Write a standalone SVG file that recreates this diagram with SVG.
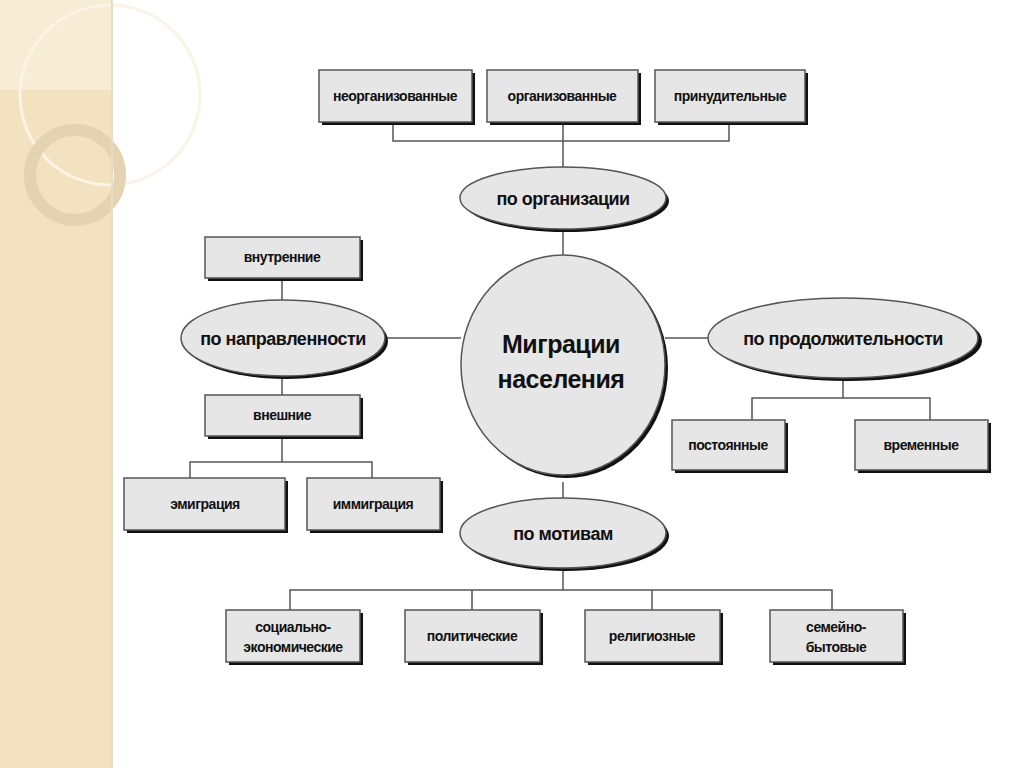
<svg xmlns="http://www.w3.org/2000/svg" width="1024" height="768" viewBox="0 0 1024 768">
<style>
.b{fill:#e6e6e6;stroke:#555;stroke-width:1.5}
.s{fill:#111}
.l{stroke:#555;stroke-width:1.5;fill:none}
text{font-family:"Liberation Sans",Arial,sans-serif;font-weight:bold;fill:#111;text-anchor:middle;letter-spacing:-0.5px}
.t{font-size:14px}
.e{font-size:18px}
.c{font-size:25px}
</style>
<rect width="1024" height="768" fill="#fff"/>
<g id="side">
<rect x="0" y="0" width="112" height="768" fill="#f2e2bf"/>
<rect x="0" y="0" width="112" height="90" fill="#f7ecd4"/>
<circle cx="110" cy="95" r="90" fill="none" stroke="#fbf4e6" stroke-width="3"/>
<circle cx="75" cy="175" r="45" fill="none" stroke="#e3d3b0" stroke-width="12"/>
<line x1="112" y1="0" x2="112" y2="768" stroke="#e8dcc4" stroke-width="2"/>
</g>
<g id="connectors" class="l">
<path d="M393 122V141H729V122M563 122V168M563 228V262"/>
<path d="M385 338H461M665 338H708"/>
<path d="M282 278V300M282 378V395M282 436V462M190 478V462H372V478"/>
<path d="M843 378V398M752 420V398H930V420"/>
<path d="M563 482V498M563 568V590M290 610V590H832V610M472 590V610M652 590V610"/>
</g>
<g id="n1"><rect class="s" x="322" y="73" width="153" height="52"/><rect class="b" x="319" y="70" width="153" height="52"/><text class="t" x="395" y="101">неорганизованные</text></g>
<g id="n2"><rect class="s" x="490" y="73" width="151" height="52"/><rect class="b" x="487" y="70" width="151" height="52"/><text class="t" x="562" y="101">организованные</text></g>
<g id="n3"><rect class="s" x="658" y="73" width="150" height="52"/><rect class="b" x="655" y="70" width="150" height="52"/><text class="t" x="730" y="101">принудительные</text></g>
<g id="org"><ellipse class="s" cx="566" cy="201" rx="103" ry="31"/><ellipse class="b" cx="563" cy="198" rx="103" ry="31"/><text class="e" x="563" y="205">по организации</text></g>
<g id="center"><ellipse class="s" cx="566" cy="368" rx="102" ry="110"/><ellipse class="b" cx="563" cy="365" rx="102" ry="110"/><text class="c" x="561" y="353">Миграции</text><text class="c" x="561" y="388">населения</text></g>
<g id="napr"><ellipse class="s" cx="286" cy="341" rx="102" ry="38"/><ellipse class="b" cx="283" cy="338" rx="102" ry="38"/><text class="e" x="283" y="345">по направленности</text></g>
<g id="prod"><ellipse class="s" cx="847" cy="341" rx="135" ry="40"/><ellipse class="b" cx="843" cy="338" rx="135" ry="40"/><text class="e" x="843" y="345">по продолжительности</text></g>
<g id="vnutr"><rect class="s" x="208" y="240" width="155" height="41"/><rect class="b" x="205" y="237" width="155" height="41"/><text class="t" x="282" y="262">внутренние</text></g>
<g id="vnesh"><rect class="s" x="208" y="398" width="155" height="41"/><rect class="b" x="205" y="395" width="155" height="41"/><text class="t" x="282" y="420">внешние</text></g>
<g id="emig"><rect class="s" x="127" y="481" width="161" height="52"/><rect class="b" x="124" y="478" width="161" height="52"/><text class="t" x="205" y="509">эмиграция</text></g>
<g id="immig"><rect class="s" x="310" y="481" width="133" height="52"/><rect class="b" x="307" y="478" width="133" height="52"/><text class="t" x="373" y="509">иммиграция</text></g>
<g id="post"><rect class="s" x="675" y="423" width="113" height="50"/><rect class="b" x="672" y="420" width="113" height="50"/><text class="t" x="728" y="450">постоянные</text></g>
<g id="vrem"><rect class="s" x="858" y="423" width="133" height="50"/><rect class="b" x="855" y="420" width="133" height="50"/><text class="t" x="921" y="450">временные</text></g>
<g id="motiv"><ellipse class="s" cx="566" cy="536" rx="103" ry="35"/><ellipse class="b" cx="563" cy="533" rx="103" ry="35"/><text class="e" x="563" y="540">по мотивам</text></g>
<g id="m1"><rect class="s" x="229" y="613" width="134" height="52"/><rect class="b" x="226" y="610" width="134" height="52"/><text class="t" x="293" y="632">социально-</text><text class="t" x="293" y="652">экономические</text></g>
<g id="m2"><rect class="s" x="408" y="613" width="135" height="52"/><rect class="b" x="405" y="610" width="135" height="52"/><text class="t" x="472" y="641">политические</text></g>
<g id="m3"><rect class="s" x="588" y="613" width="135" height="52"/><rect class="b" x="585" y="610" width="135" height="52"/><text class="t" x="652" y="641">религиозные</text></g>
<g id="m4"><rect class="s" x="773" y="613" width="133" height="52"/><rect class="b" x="770" y="610" width="133" height="52"/><text class="t" x="836" y="632">семейно-</text><text class="t" x="836" y="652">бытовые</text></g>
</svg>
